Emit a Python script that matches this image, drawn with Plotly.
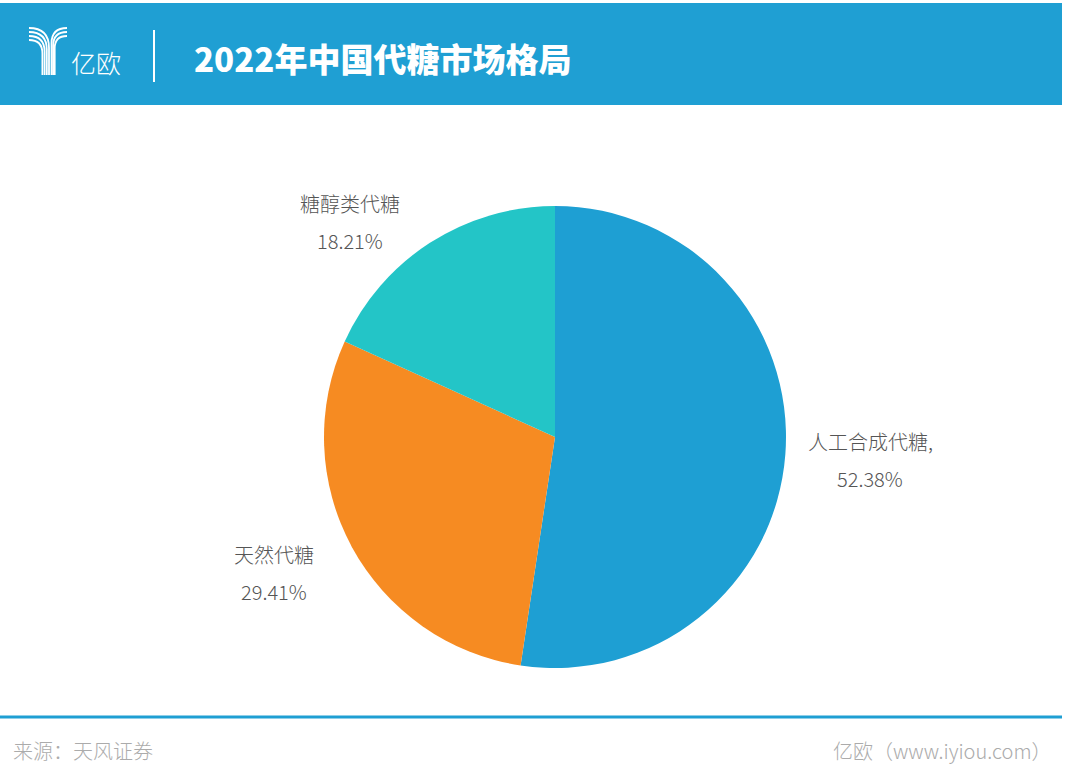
import plotly.graph_objects as go

# ---- data ----
categories = ["人工合成代糖,", "天然代糖", "糖醇类代糖"]
shares = [52.38, 29.41, 18.21]
share_labels = ["52.38%", "29.41%", "18.21%"]
slice_colors = ["#1e9fd3", "#f68b22", "#23c5c7"]

title_text = "2022年中国代糖市场格局"
source_text = "来源：天风证券"
brand_text = "亿欧（www.iyiou.com）"
logo_text = "亿欧"

# ---- layout constants (pixels) ----
W, H = 1077, 784
CX, CY, R = 555, 437, 231
# label block centres, in units of the pie radius relative to the centre
LABEL_OFFSETS = [(1.364, 0.100), (-1.216, 0.589), (-0.887, -0.931)]
LINE_GAP = 18.5

HEADER_BLUE = "#1f9fd3"
FONT = "Noto Sans CJK SC, Noto Sans, sans-serif"


def px(x):
    return x / W


def py(y):
    return 1 - y / H


fig = go.Figure()
fig.add_trace(go.Pie(
    labels=categories,
    values=shares,
    sort=False,
    direction="clockwise",
    rotation=0,
    marker=dict(colors=slice_colors, line=dict(width=0)),
    textinfo="none",
    hoverinfo="label+percent",
    showlegend=False,
    domain=dict(x=[px(CX - R), px(CX + R)], y=[py(CY + R), py(CY - R)]),
))

shapes = []
annotations = []

# header band
shapes.append(dict(type="rect", xref="paper", yref="paper",
                   x0=0, x1=px(1062), y0=py(105), y1=py(3),
                   fillcolor=HEADER_BLUE, line=dict(width=0), layer="below"))
# divider
shapes.append(dict(type="line", xref="paper", yref="paper",
                   x0=px(154), x1=px(154), y0=py(30), y1=py(82),
                   line=dict(color="white", width=2)))


def path(points_cmds):
    out = []
    for cmd, pts in points_cmds:
        coords = " ".join(f"{px(x):.5f},{py(y):.5f}" for x, y in pts)
        out.append(f"{cmd} {coords}")
    return " ".join(out)


# logo: stripes forming a Y
for i in range(4):
    y0 = 28 + 4 * i
    xe = 49 - 2.2 * i
    p = path([("M", [(29, y0)]), ("Q", [(xe, y0), (xe, y0 + (xe - 29))]), ("L", [(xe, 75)])])
    shapes.append(dict(type="path", xref="paper", yref="paper", path=p,
                       line=dict(color="white", width=1.8)))
for j in range(3):
    y0 = 28 + 4 * j
    xe = 51.5 + 1.6 * j
    p = path([("M", [(67, y0)]), ("Q", [(xe, y0), (xe, y0 + (67 - xe))]), ("L", [(xe, 75)])])
    shapes.append(dict(type="path", xref="paper", yref="paper", path=p,
                       line=dict(color="white", width=1.8)))

annotations.append(dict(text=logo_text, xref="paper", yref="paper",
                        x=px(69), y=py(62), xanchor="left", yanchor="middle",
                        showarrow=False, font=dict(family=FONT, size=25, color="white", weight=300)))
annotations.append(dict(text=title_text, xref="paper", yref="paper",
                        x=px(192), y=py(58), xanchor="left", yanchor="middle",
                        showarrow=False, font=dict(family=FONT, size=33, color="white", weight=900)))

# footer line + texts
shapes.append(dict(type="line", xref="paper", yref="paper",
                   x0=0, x1=px(1062), y0=py(717), y1=py(717),
                   line=dict(color=HEADER_BLUE, width=3)))
annotations.append(dict(text=source_text, xref="paper", yref="paper",
                        x=px(11), y=py(750), xanchor="left", yanchor="middle",
                        showarrow=False, font=dict(family=FONT, size=20, color="#ababab", weight=300)))
annotations.append(dict(text=brand_text, xref="paper", yref="paper",
                        x=px(1054), y=py(750), xanchor="right", yanchor="middle",
                        showarrow=False, font=dict(family=FONT, size=20, color="#ababab", weight=300)))

# slice labels
for name, pct, (ox, oy) in zip(categories, share_labels, LABEL_OFFSETS):
    bx = CX + ox * R
    by = CY + oy * R
    for k, txt in enumerate([name, pct]):
        annotations.append(dict(text=txt, xref="paper", yref="paper",
                                x=px(bx), y=py(by + (2 * k - 1) * LINE_GAP),
                                xanchor="center", yanchor="middle", showarrow=False,
                                font=dict(family=FONT, size=20, color="#555555", weight=300)))

fig.update_layout(
    width=W, height=H,
    margin=dict(l=0, r=0, t=0, b=0),
    paper_bgcolor="white",
    plot_bgcolor="white",
    shapes=shapes,
    annotations=annotations,
)

fig.write_html("out.html",
               config={"displayModeBar": False},
               post_script="document.body.style.margin='0';document.body.style.padding='0';")
